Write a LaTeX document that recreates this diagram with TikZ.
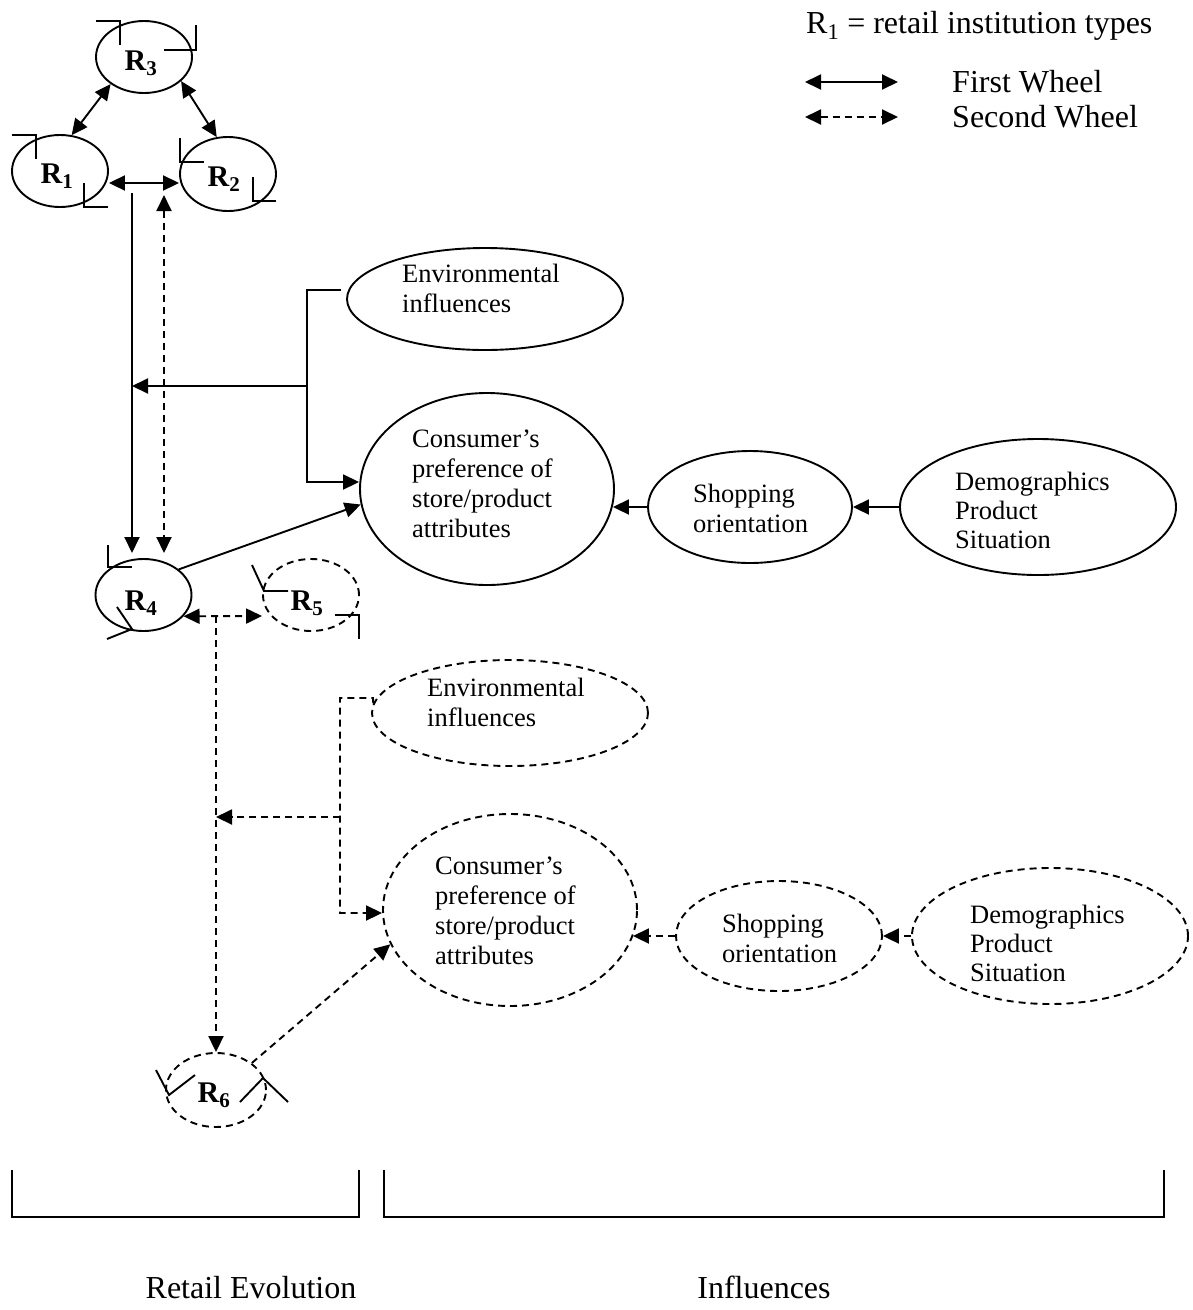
\documentclass[tikz,border=0pt]{standalone}
\usepackage{fontspec}
\setmainfont{Liberation Serif}
\usetikzlibrary{arrows.meta,shapes.geometric,calc}
\begin{document}
\begin{tikzpicture}[x=1pt,y=-1pt,
  ln/.style={line width=1.9pt},
  dsh/.style={line width=1.9pt, dash pattern=on 7pt off 5pt},
  ov/.style={draw, ellipse, line width=1.9pt, inner sep=0pt},
  dov/.style={ov, dash pattern=on 7pt off 5pt},
  arr/.style={-{Triangle[length=16pt,width=15pt]}},
  darr/.style={{Triangle[length=16pt,width=15pt]}-{Triangle[length=16pt,width=15pt]}},
  rl/.style={font=\fontsize{30}{30}\selectfont\bfseries, anchor=base, inner sep=0pt},
  tx/.style={font=\fontsize{26.5}{30}\selectfont, align=left, anchor=north west, inner sep=0pt},
  dtx/.style={font=\fontsize{26.5}{29}\selectfont, align=left, anchor=north west, inner sep=0pt},
  big/.style={font=\fontsize{32}{32}\selectfont, inner sep=0pt},
]
\useasboundingbox (0,0) rectangle (1193,1310);

% retail institution ellipses
\node[ov, minimum width=96pt, minimum height=72pt] (R3) at (144,57) {};
\node[ov, minimum width=96pt, minimum height=72pt] (R1) at (60,171) {};
\node[ov, minimum width=96pt, minimum height=74pt] (R2) at (228,174) {};
\node[ov, minimum width=96pt, minimum height=72pt] (R4) at (143.5,595) {};
\node[dov, minimum width=96pt, minimum height=72pt] (R5) at (311,595) {};
\node[dov, minimum width=100pt, minimum height=74pt] (R6) at (216,1090) {};

\node[rl] (t3) at (141,70) {R\textsubscript{3}};
\node[rl] (t1) at (57,183) {R\textsubscript{1}};
\node[rl] (t2) at (224,186) {R\textsubscript{2}};
\node[rl] (t4) at (141,610) {R\textsubscript{4}};
\node[rl] (t5) at (307,610) {R\textsubscript{5}};
\node[rl] (t6) at (214,1102) {R\textsubscript{6}};

% corner marks
\draw[ln] (96,21) -- (120,21) -- (120,45);
\draw[ln] (196,25) -- (196,50) -- (164,50);
\draw[ln] (12,135) -- (36,135) -- (36,159);
\draw[ln] (84,183) -- (84,207) -- (108,207);
\draw[ln] (180,138) -- (180,162) -- (204,162);
\draw[ln] (253,177) -- (253,201) -- (276,201);
\draw[ln] (108,545) -- (108,567) -- (132,567);
\draw[ln] (117,607) -- (132,629) -- (107,639);
\draw[ln] (252,565) -- (264,591) -- (288,591);
\draw[ln] (335,615) -- (359,615) -- (359,639);
\draw[ln] (156,1070) -- (169,1095) -- (195,1075);
\draw[ln] (240,1102) -- (263,1078) -- (288,1102);

% influence ellipses (first wheel)
\node[ov, minimum width=276pt, minimum height=102pt] (env1) at (485,299) {};
\node[ov, minimum width=254pt, minimum height=192pt] (cons1) at (487,489) {};
\node[ov, minimum width=204pt, minimum height=112pt] (shop1) at (750,507) {};
\node[ov, minimum width=276pt, minimum height=136pt] (demo1) at (1038,507) {};

\node[tx] (te1) at (402,264) {Environmental\\influences};
\node[tx] (tc1) at (412,430) {Consumer’s\\preference of\\store/product\\attributes};
\node[tx] (ts1) at (693,484) {Shopping\\orientation};
\node[dtx] (td1) at (955,472) {Demographics\\Product\\Situation};

% influence ellipses (second wheel)
\node[dov, minimum width=276pt, minimum height=106pt] (env2) at (510,713) {};
\node[dov, minimum width=254pt, minimum height=192pt] (cons2) at (510,910) {};
\node[dov, minimum width=206pt, minimum height=110pt] (shop2) at (779,936) {};
\node[dov, minimum width=276pt, minimum height=136pt] (demo2) at (1050,936) {};

\node[tx] (te2) at (427,678) {Environmental\\influences};
\node[tx] (tc2) at (435,857) {Consumer’s\\preference of\\store/product\\attributes};
\node[tx] (ts2) at (722,914) {Shopping\\orientation};
\node[dtx] (td2) at (970,905) {Demographics\\Product\\Situation};

% first wheel connectors
\draw[ln,darr] (R3.219) -- (R1.72);
\draw[ln,darr] (R3.-33) -- (R2.107);
\draw[ln,darr] ($(R1.east)+(0,12)$) -- ($(R2.west)+(0,9)$);

\coordinate (s1) at (132,193);
\coordinate (s4) at (132,553);
\draw[ln,arr] (s1) -- (s4);
\coordinate (d1) at (164,195);
\coordinate (d4) at (164,553);
\draw[dsh,darr] (d1) -- (d4);

\coordinate (e1) at (341,290);
\coordinate (j1) at (307,290);
\coordinate (j1b) at (307,482);
\coordinate (j1m) at (307,386);
\coordinate (m1) at (132,386);
\draw[ln,arr] (e1) -- (j1) -- (j1b) -- (cons1.west |- j1b);
\draw[ln,arr] (j1m) -- (m1);

\draw[ln,arr] (R4.36) -- (cons1.187);
\draw[ln,arr] (shop1.west) -- ($(shop1.west -| cons1.east)+(-2,0)$);
\draw[ln,arr] (demo1.west) -- (demo1.west -| shop1.east);

% second wheel connectors
\draw[dsh,darr] (R4.-28) -- ($(R5.west)+(0,21)$);
\coordinate (d5) at (216,616);
\draw[dsh,arr] (d5) -- (R6.north);

\coordinate (e2) at (373,698);
\coordinate (j2) at (340,698);
\coordinate (j2b) at (340,913);
\coordinate (j2m) at (340,817);
\coordinate (m2) at (216,817);
\draw[dsh,arr] (env2.176) -- (e2) -- (j2) -- (j2b) -- (cons2.west |- j2b);
\draw[dsh,arr] (j2m) -- (m2);

\draw[dsh,arr] (R6.37) -- (cons2.196);
\draw[dsh,arr] (shop2.west) -- ($(shop2.west -| cons2.east)+(-5,0)$);
\draw[dsh,arr] (demo2.west) -- (demo2.west -| shop2.east);

% legend
\node[big, anchor=base west] (leg) at (806,33) {R\textsubscript{1} = retail institution types};
\coordinate (la1) at (805,82);
\coordinate (lb1) at (898,82);
\draw[ln,darr] (la1) -- (lb1);
\coordinate (la2) at (805,117);
\coordinate (lb2) at (898,117);
\draw[dsh,darr] (la2) -- (lb2);
\node[big, anchor=base west] (fw) at (952,92) {First Wheel};
\node[big, anchor=base west] (sw) at (952,127) {Second Wheel};

% brackets
\draw[ln] (12,1170) -- (12,1217) -- (359,1217) -- (359,1170);
\draw[ln] (384,1170) -- (384,1217) -- (1164,1217) -- (1164,1170);
\node[big, anchor=base] (re) at (251,1298) {Retail Evolution};
\node[big, anchor=base] (inf) at (764,1298) {Influences};
\end{tikzpicture}
\end{document}
